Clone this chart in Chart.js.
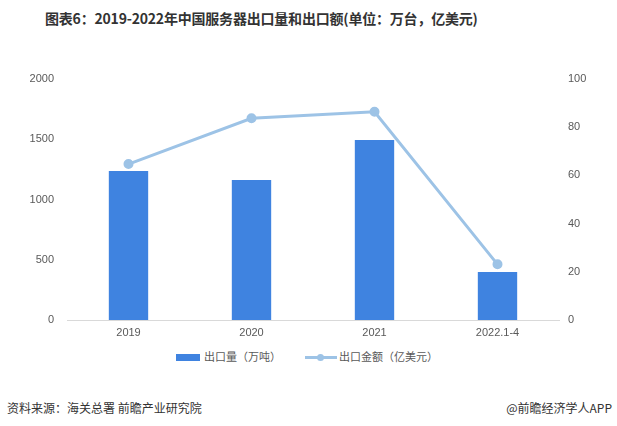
<!DOCTYPE html>
<html>
<head>
<meta charset="utf-8">
<script src="https://cdn.jsdelivr.net/npm/chart.js@4/dist/chart.umd.min.js"></script>
<style>
  body { margin: 0; background: #fff; font-family: "Noto Sans CJK SC", sans-serif; }
  #wrap { position: relative; width: 617px; height: 426px; overflow: hidden; }
  #title { position: absolute; left: 45px; top: 8px; font-size: 14px; font-weight: bold; color: #333; white-space: nowrap; letter-spacing: -0.2px; }
  #chartBox { position: absolute; left: 0; top: 0; width: 617px; height: 345px; }
  .legend { position: absolute; top: 348px; font-size: 11px; color: #595959; white-space: nowrap; line-height: 16px; }
  .sw-bar { display: inline-block; width: 24px; height: 7px; background: #3f83e0; vertical-align: middle; margin-right: 4px; position: relative; top: -1px; }
  .sw-line { display: inline-block; width: 32px; height: 3px; background: #9dc3e6; vertical-align: middle; position: relative; top: -1px; margin-right: 2px; }
  .sw-line::after { content: ""; position: absolute; left: 12px; top: -2px; width: 7px; height: 7px; border-radius: 50%; background: #9dc3e6; }
  #source { position: absolute; left: 7px; top: 399px; font-size: 12px; color: #333; }
  #brand { position: absolute; right: 5px; top: 399px; font-size: 12px; color: #333; }
</style>
</head>
<body>
<div id="wrap">
  <div id="title">图表6：2019-2022年中国服务器出口量和出口额(单位：万台，亿美元)</div>
  <div id="chartBox"><canvas id="chart"></canvas></div>
  <div class="legend" style="left:176px"><span class="sw-bar"></span>出口量（万吨）</div>
  <div class="legend" style="left:305px"><span class="sw-line"></span>出口金额（亿美元）</div>
  <div id="source">资料来源：海关总署 前瞻产业研究院</div>
  <div id="brand">@前瞻经济学人APP</div>
</div>
<script>
const categories = ['2019', '2020', '2021', '2022.1-4'];
const exportVolume = [1236, 1162, 1494, 398];
const exportValue = [64.7, 83.7, 86.4, 23.1];
const leftTicks = [0, 500, 1000, 1500, 2000];
const rightTicks = [0, 20, 40, 60, 80, 100];

const tickFont = { family: 'Liberation Sans, Arial, sans-serif', size: 11 };

new Chart(document.getElementById('chart'), {
  data: {
    labels: categories,
    datasets: [
      {
        type: 'line',
        label: '出口金额（亿美元）',
        data: exportValue,
        yAxisID: 'y1',
        borderColor: '#9dc3e6',
        backgroundColor: '#9dc3e6',
        borderWidth: 3,
        pointRadius: 3.5,
        pointHoverRadius: 3.5,
        tension: 0
      },
      {
        type: 'bar',
        label: '出口量（万吨）',
        data: exportVolume,
        yAxisID: 'y',
        backgroundColor: '#3f83e0',
        categoryPercentage: 1,
        barPercentage: 0.32
      }
    ]
  },
  options: {
    responsive: true,
    maintainAspectRatio: false,
    animation: false,
    layout: { padding: { top: 79, left: 0, right: 0, bottom: 0 } },
    plugins: { legend: { display: false }, tooltip: { enabled: false } },
    scales: {
      x: {
        grid: { display: false, drawTicks: false },
        border: { color: '#d9d9d9', width: 1 },
        ticks: { color: '#595959', font: tickFont, padding: 6, maxRotation: 0 },
        afterFit: s => { s.height = 25; }
      },
      y: {
        position: 'left',
        min: 0, max: 2000,
        afterBuildTicks: s => { s.ticks = leftTicks.map(v => ({ value: v })); },
        grid: { display: false, drawTicks: false },
        border: { display: false },
        ticks: { color: '#595959', font: tickFont, padding: 13, callback: v => String(v) },
        afterFit: s => { s.width = 67; }
      },
      y1: {
        position: 'right',
        min: 0, max: 100,
        afterBuildTicks: s => { s.ticks = rightTicks.map(v => ({ value: v })); },
        grid: { display: false, drawTicks: false },
        border: { display: false },
        ticks: { color: '#595959', font: tickFont, padding: 9, callback: v => String(v) },
        afterFit: s => { s.width = 58; }
      }
    }
  }
});
</script>
</body>
</html>
